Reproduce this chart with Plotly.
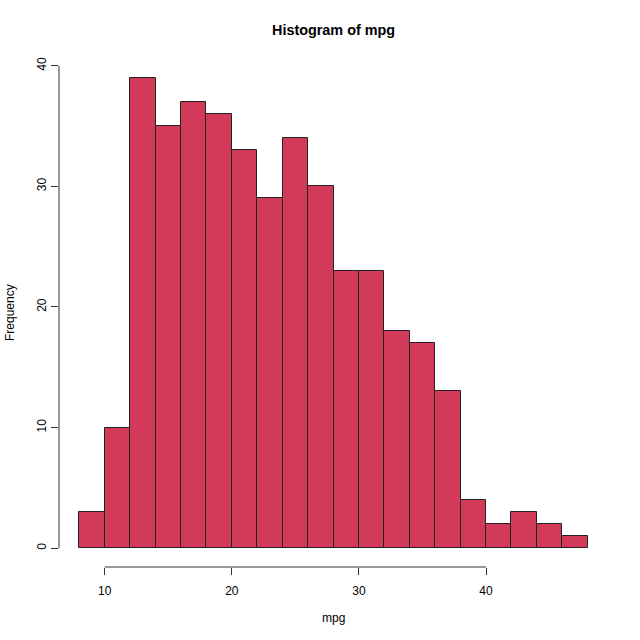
import plotly.graph_objects as go

# histogram of mpg, bins of width 2 from 8 to 48
bin_left = [8, 10, 12, 14, 16, 18, 20, 22, 24, 26, 28, 30, 32, 34, 36, 38, 40, 42, 44, 46]
counts = [3, 10, 39, 35, 37, 36, 33, 29, 34, 30, 23, 23, 18, 17, 13, 4, 2, 3, 2, 1]
bin_width = 2
x_ticks = [10, 20, 30, 40]
y_ticks = [0, 10, 20, 30, 40]

FONT = "Liberation Sans, Arial, Helvetica, sans-serif"
BAR = "#d33a59"

centers = [b + bin_width / 2 for b in bin_left]

fig = go.Figure(go.Bar(x=centers, y=counts, width=bin_width,
                       marker=dict(color=BAR, line=dict(color="#222222", width=1))))

# R pads the data range by 4% on each side
xr = [bin_left[0], bin_left[-1] + bin_width]
yr = [0, max(counts)]
dx = (xr[1] - xr[0]) * 0.04
dy = (yr[1] - yr[0]) * 0.04

fig.update_layout(
    width=640, height=640,
    paper_bgcolor="white", plot_bgcolor="white",
    margin=dict(l=59, r=32, t=59, b=73),
    showlegend=False, bargap=0,
    font=dict(family=FONT, size=12, color="#000000"),
    xaxis=dict(range=[xr[0] - dx, xr[1] + dx], tickvals=x_ticks, ticks="outside",
               ticklen=7, tickcolor="#333333", showgrid=False, zeroline=False,
               showline=False, tickfont=dict(size=12), ticklabelstandoff=6),
    yaxis=dict(range=[yr[0] - dy, yr[1] + dy], tickvals=y_ticks, ticks="outside",
               ticklen=7, tickcolor="#333333", showgrid=False, zeroline=False,
               showline=False, tickangle=-90, tickfont=dict(size=12)),
    shapes=[
        dict(type="line", xref="x", yref="paper", x0=x_ticks[0], x1=x_ticks[-1], y0=0, y1=0,
             line=dict(color="#333333", width=1)),
        dict(type="line", xref="paper", yref="y", x0=0, x1=0, y0=y_ticks[0], y1=y_ticks[-1],
             line=dict(color="#333333", width=1)),
    ],
    annotations=[
        dict(text="<b>Histogram of mpg</b>", xref="paper", yref="paper", x=0.5, y=1,
             yshift=29, showarrow=False, font=dict(size=14.4), yanchor="middle"),
        dict(text="mpg", xref="paper", yref="paper", x=0.5, y=0, yshift=-51,
             showarrow=False, font=dict(size=12), yanchor="middle"),
        dict(text="Frequency", xref="paper", yref="paper", x=0, y=0.5, xshift=-49,
             showarrow=False, textangle=-90, font=dict(size=12), xanchor="center"),
    ],
)

# drop the default 8px body margin so the figure sits at the page corner
fig.write_html("out.html", config={"displayModeBar": False},
               post_script="document.body.style.margin='0px';")
